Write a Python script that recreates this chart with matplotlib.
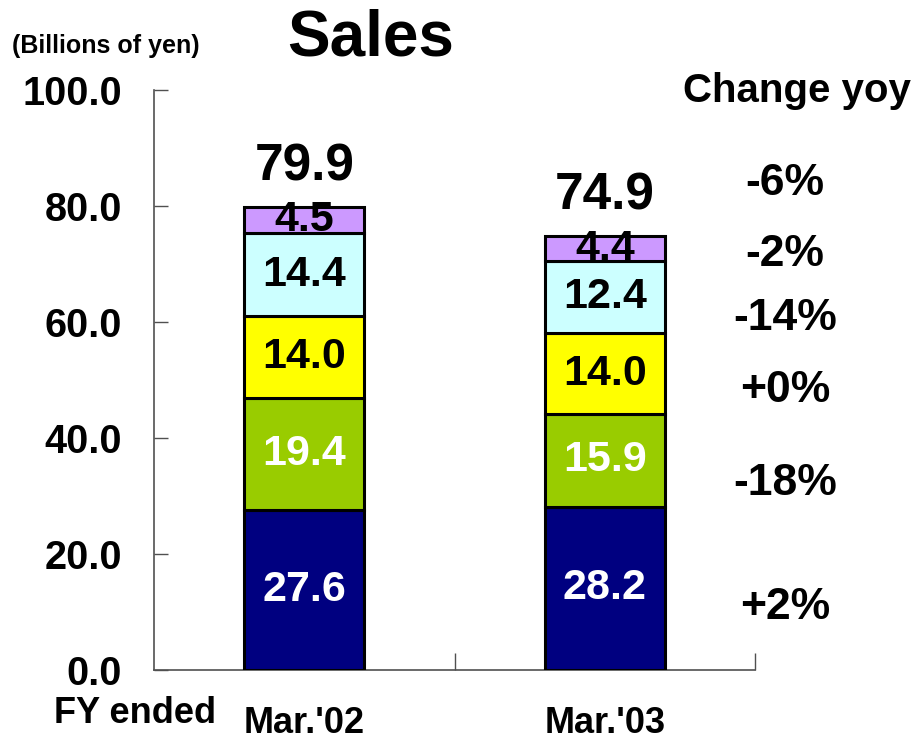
import matplotlib
matplotlib.use("Agg")
import matplotlib.pyplot as plt

plt.rcParams['font.family'] = ['Liberation Sans', 'DejaVu Sans']
plt.rcParams['font.weight'] = 'bold'

years = ["Mar.'02", "Mar.'03"]
values02 = [27.6, 19.4, 14.0, 14.4, 4.5]
values03 = [28.2, 15.9, 14.0, 12.4, 4.4]
totals = [79.9, 74.9]
colors = ["#000080", "#99CC00", "#FFFF00", "#CCFFFF", "#CC99FF"]
textColors = ["white", "white", "black", "black", "black"]
changes = ["+2%", "-18%", "+0%", "-14%", "-2%", "-6%"]
changeY = [10.7, 32.2, 48.3, 60.7, 71.6, 84.0]
yTicks = [0, 20, 40, 60, 80, 100]

fig = plt.figure(figsize=(9.22, 7.45), dpi=100)
ax = fig.add_axes([0.167, 0.1007, 0.652, 0.778])

data = [values02, values03]
for i, vals in enumerate(data):
    bottom = 0
    for j, v in enumerate(vals):
        ax.bar(i, v, bottom=bottom, width=0.4, color=colors[j],
               edgecolor="black", linewidth=2.2, zorder=3)
        ax.text(i, bottom + v / 2, "%.1f" % v, ha="center", va="center",
                fontsize=31, color=textColors[j], zorder=4)
        bottom += v
    ax.text(i, totals[i] + 6.8, "%.1f" % totals[i], ha="center", va="center",
            fontsize=37, color="black", zorder=4)

for lbl, y in zip(changes, changeY):
    ax.text(1.6, y, lbl, ha="center", va="center", fontsize=32,
            clip_on=False)

ax.set_xlim(-0.5, 1.5)
ax.set_ylim(0, 100)
ax.set_yticks(yTicks)
ax.set_yticklabels(["%.1f" % t for t in yTicks], fontsize=28.5)
ax.tick_params(axis="y", direction="in", length=10, width=1,
               color="#505050", pad=23)
ax.set_xticks([0, 1])
ax.set_xticklabels(years, fontsize=26)
ax.tick_params(axis="x", length=0, pad=26)
ax.set_xticks([0.5, 1.5], minor=True)
ax.tick_params(axis="x", which="minor", direction="in", length=12,
               width=1, color="#505050")

for s in ["top", "right"]:
    ax.spines[s].set_visible(False)
for s in ["left", "bottom"]:
    ax.spines[s].set_color("#505050")
    ax.spines[s].set_linewidth(1.2)

fig.text(0.402, 0.948, "Sales", ha="center", va="center", fontsize=46)
fig.text(0.115, 0.938, "(Billions of yen)", ha="center", va="center",
         fontsize=18)
fig.text(0.864, 0.878, "Change yoy", ha="center", va="center", fontsize=29)
fig.text(0.146, 0.042, "FY ended", ha="center", va="center", fontsize=26)

fig.savefig("out.png", dpi=100)
